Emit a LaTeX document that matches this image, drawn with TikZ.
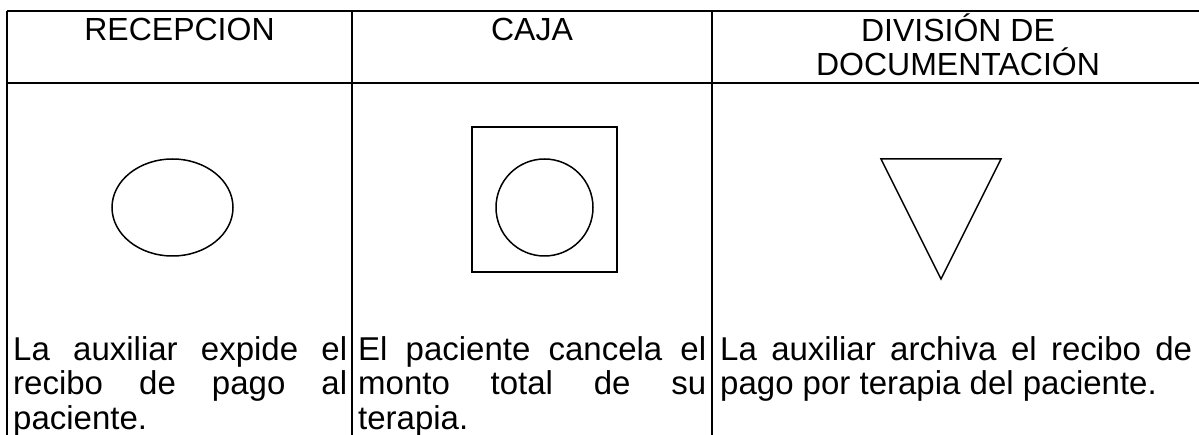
\documentclass[tikz,border=0pt]{standalone}
\usepackage{fontspec}
\setmainfont{Liberation Sans}
\usetikzlibrary{shapes}
\tikzstyle{grid} = [line width=1.7pt, draw=black]
\tikzstyle{heading} = [anchor=base, inner sep=0pt, align=center, font=\fontsize{32}{34}\selectfont]
\tikzstyle{cell} = [anchor=base west, inner sep=0pt, align=justify, font=\fontsize{33}{35}\selectfont]
\tikzstyle{symbol} = [line width=1.5pt, draw=black]
\hyphenpenalty=10000
\exhyphenpenalty=10000
\tolerance=10000

\begin{document}
\begin{tikzpicture}[x=1pt, y=-1pt]
\useasboundingbox (0,0) rectangle (1199,435);
\clip (0,0) rectangle (1199,435);

% table lines
\coordinate (t0) at (7,11);
\coordinate (t1) at (352,11);
\coordinate (t2) at (712,11);
\coordinate (t3) at (1204,11);
\coordinate (h0) at (7,83);
\coordinate (h3) at (1204,83);
\coordinate (b0) at (7,440);
\coordinate (b1) at (352,440);
\coordinate (b2) at (712,440);

\draw [grid] (t0) -- (t3);
\draw [grid] (h0) -- (h3);
\draw [grid] (t0) -- (b0);
\draw [grid] (t1) -- (b1);
\draw [grid] (t2) -- (b2);

% headings
\node (recepcion) [heading] at (179.5,41) {RECEPCION};
\node (caja) [heading] at (532,41) {CAJA};
\node (division) [heading] at (958,76) {DIVISIÓN DE\\DOCUMENTACIÓN};

% symbols
\node (elipse) [symbol, ellipse, inner sep=0pt, minimum width=121pt, minimum height=97pt] at (172.5,207.5) {};
\node (cuadro) [symbol, rectangle, inner sep=0pt, minimum size=145pt] at (544.5,199.5) {};
\node (circulo) [symbol, circle, inner sep=0pt, minimum size=97pt] at (544.5,207.5) {};
\coordinate (v1) at (881,159);
\coordinate (v2) at (1001,159);
\coordinate (v3) at (941,279);
\draw [symbol, line join=miter] (v1) -- (v2) -- (v3) -- cycle;

% descriptions
\node (texto1) [cell, text width=334pt] at (13,360) {La auxiliar expide el\linebreak recibo de pago al\linebreak paciente.};
\node (texto2) [cell, text width=348pt] at (358,360) {El paciente cancela el\linebreak monto total de su\linebreak terapia.};
\node (texto3) [cell, text width=472pt] at (720,360) {La auxiliar archiva el recibo de\linebreak pago por terapia del paciente.};

\end{tikzpicture}
\end{document}
